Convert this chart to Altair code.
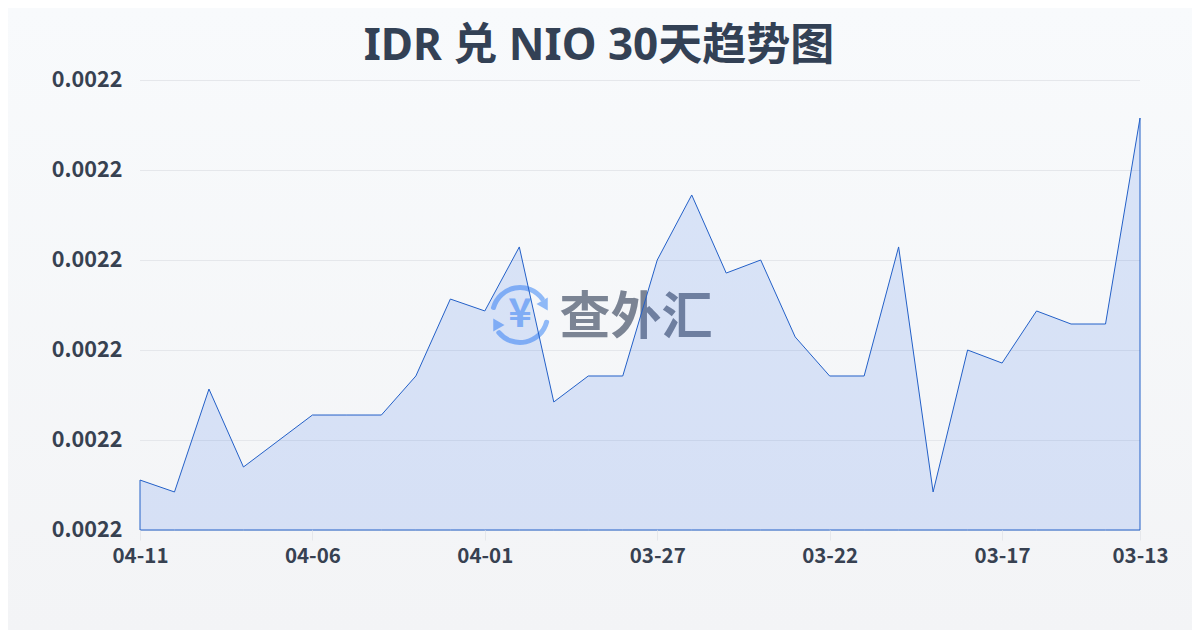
import altair as alt
import pandas as pd

dates = ["04-11","04-10","04-09","04-08","04-07","04-06","04-05","04-04","04-03","04-02",
         "04-01","03-31","03-30","03-29","03-28","03-27","03-26","03-25","03-24","03-23",
         "03-22","03-21","03-20","03-19","03-18","03-17","03-16","03-15","03-14","03-13"]
rates = [0.00220444,0.00220338,0.00221253,0.00220560,0.00220791,0.00221022,0.00221022,0.00221022,0.00221369,0.00222053,
         0.00221947,0.00222516,0.00221138,0.00221369,0.00221369,0.00222400,0.00222978,0.00222284,0.00222400,0.00221716,
         0.00221369,0.00221369,0.00222516,0.00220338,0.00221600,0.00221484,0.00221947,0.00221831,0.00221831,0.00223662]
y_ticks = [0.0022,0.002208,0.002216,0.002224,0.002232,0.00224]
x_ticks = [0,5,10,15,20,25,29]
title_text = "IDR 兑 NIO 30天趋势图"
brand = "查外汇"

FONT = "Noto Sans CJK SC"
TITLE_FONT = "Noto Sans, Noto Sans CJK SC"
LABEL_FONT = "Noto Sans CJK SC"
INK = "#374151"
LOGO = "#8fb9f7"

df = pd.DataFrame({"i": list(range(len(dates))), "date": dates, "rate": rates})
grid_df = pd.DataFrame({"rate": y_ticks})
one = pd.DataFrame({"n": [0]})

label_expr = "[" + ",".join(f"'{d}'" for d in dates) + "][datum.value]"
x_enc = alt.X("i:Q", title=None,
              scale=alt.Scale(domain=[0, len(dates) - 1], nice=False, zero=False),
              axis=alt.Axis(values=x_ticks, labelExpr=label_expr, labelAngle=0, labelFont=LABEL_FONT, labelFontWeight="bold",
                            labelFontSize=20.5, labelColor=INK, labelPadding=6, domain=False,
                            ticks=True, tickColor="#e5e7eb", tickSize=10, grid=False, zindex=1,
                            labelFlush=False, labelBound=False, labelOverlap=False))
y_enc = alt.Y("rate:Q", title=None,
              scale=alt.Scale(domain=[y_ticks[0], y_ticks[-1]], nice=False, zero=False),
              axis=alt.Axis(values=y_ticks, format=".4f", labelFont=LABEL_FONT, labelFontWeight="bold",
                            labelFontSize=21.6, labelColor=INK, labelPadding=18, domain=False,
                            ticks=False, grid=False, zindex=1))

bg = alt.Chart(one).mark_rect(
    color=alt.LinearGradient(gradient="linear", x1=0, y1=0, x2=0, y2=1,
                             stops=[alt.GradientStop(color="#f8fafc", offset=0),
                                    alt.GradientStop(color="#f3f4f6", offset=1)])
).encode(x=alt.value(-132), x2=alt.value(1052), y=alt.value(-72), y2=alt.value(550))

grid = alt.Chart(grid_df).mark_rule(color="#e5e7eb", strokeWidth=1, yOffset=0.5).encode(
    y=y_enc, x=alt.value(0), x2=alt.value(1000))

title = alt.Chart(one).mark_text(text=title_text, font=TITLE_FONT, fontWeight="bold", fontSize=44,
                                 color="#334155", align="center", baseline="middle").encode(
    x=alt.value(459), y=alt.value(-33))

wm_text = alt.Chart(one).mark_text(text=brand, font=FONT, fontWeight="bold", fontSize=51,
                                   color="#7b8494", align="center", baseline="middle").encode(
    x=alt.value(496), y=alt.value(239))
wm_yen = alt.Chart(one).mark_text(text="¥", font=FONT, fontWeight="bold", fontSize=40,
                                  color=LOGO, align="center", baseline="middle").encode(
    x=alt.value(380), y=alt.value(235))
arc_top = alt.Chart(one).mark_arc(radius=30, radius2=25, theta=4.9, theta2=7.3, cornerRadius=2, color=LOGO).encode(
    x=alt.value(380), y=alt.value(235))
arc_bot = alt.Chart(one).mark_arc(radius=30, radius2=25, theta=1.75, theta2=4.1, cornerRadius=2, color=LOGO).encode(
    x=alt.value(380), y=alt.value(235))
arrow_r = alt.Chart(one).mark_point(shape="triangle", filled=True, size=170, opacity=1, angle=150, color=LOGO).encode(
    x=alt.value(404), y=alt.value(224))
arrow_l = alt.Chart(one).mark_point(shape="triangle", filled=True, size=170, opacity=1, angle=330, color=LOGO).encode(
    x=alt.value(357), y=alt.value(245))

area = alt.Chart(df).mark_area(fill="#2563eb", fillOpacity=0.14, stroke="#2360c8", strokeWidth=1,
                               interpolate="linear").encode(x=x_enc, y=y_enc, y2=alt.Y2(datum=y_ticks[0]))

chart = alt.layer(bg, grid, title, wm_text, wm_yen, arc_top, arc_bot, arrow_r, arrow_l, area).properties(
    width=1000, height=450,
    padding={"left": 132, "top": 72, "right": 52, "bottom": 100},
    autosize="none",
    background="transparent",
).configure_view(stroke=None)

chart.save("out.html", embed_options={"renderer": "svg", "actions": False})
